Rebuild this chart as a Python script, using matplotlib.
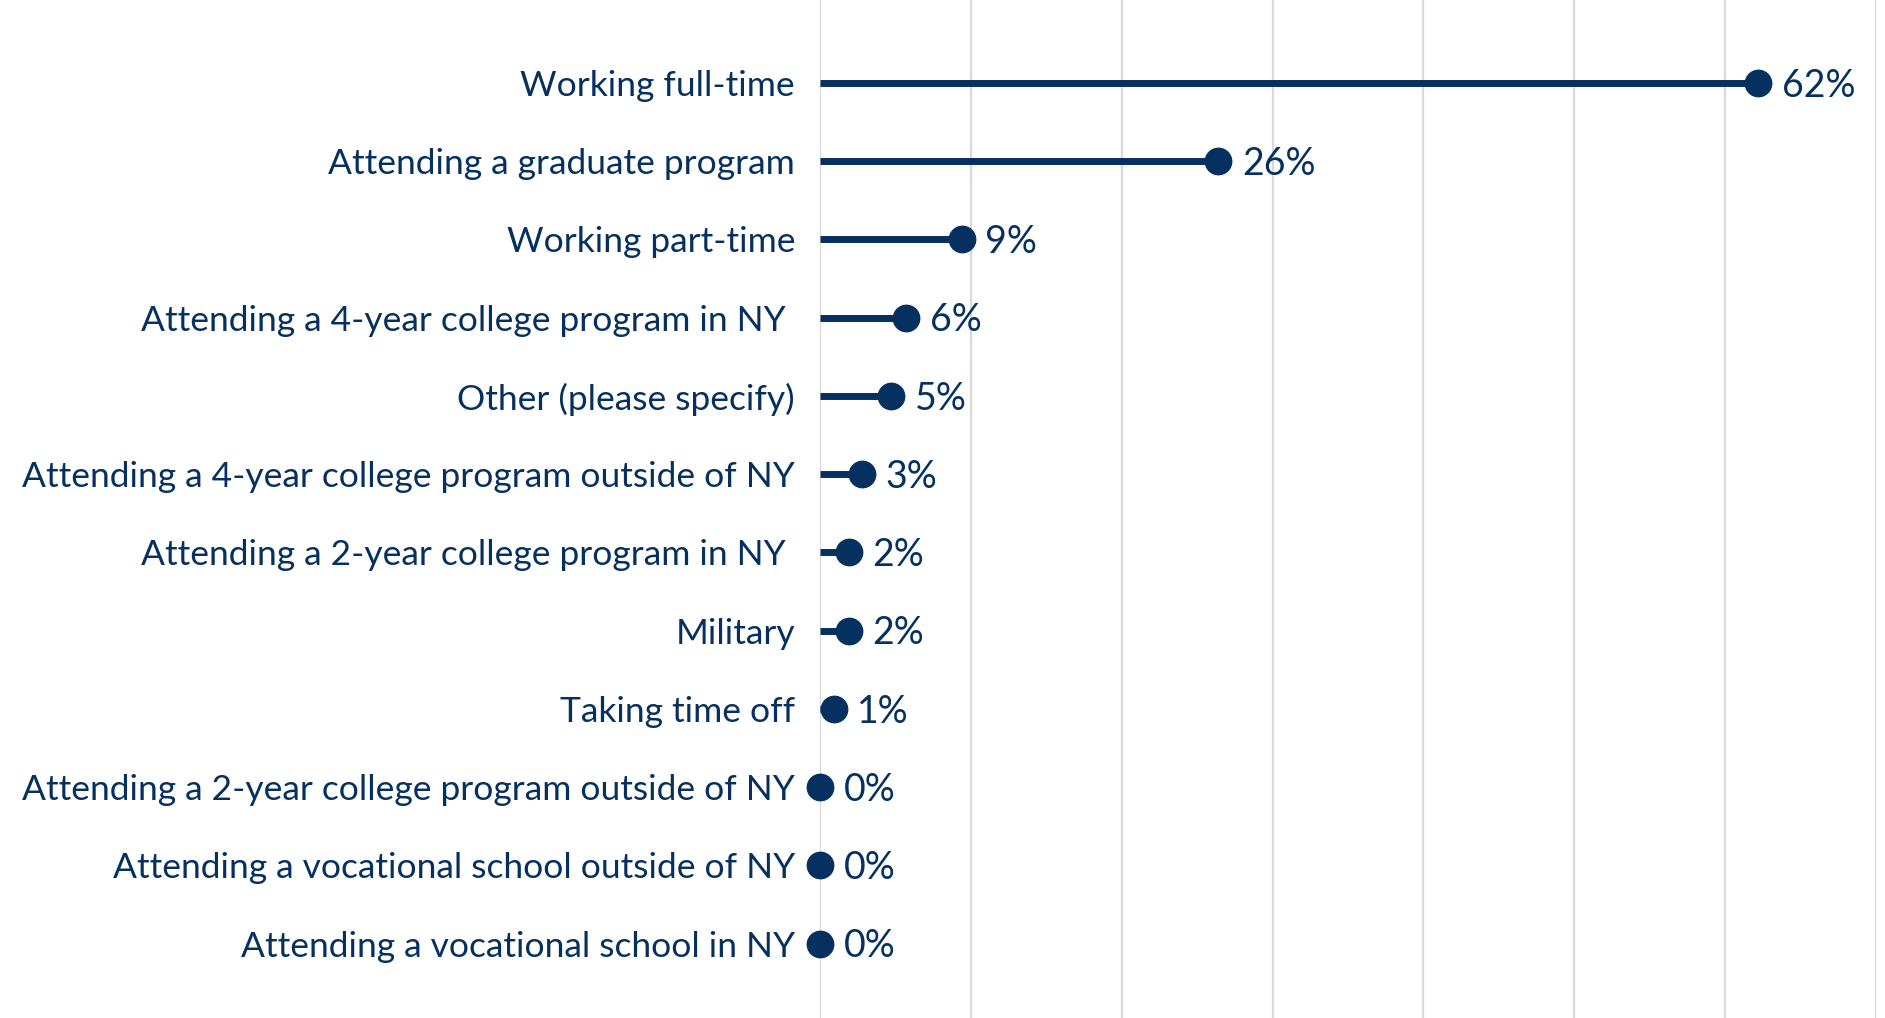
import matplotlib
matplotlib.use('Agg')
import matplotlib.pyplot as plt

categories = [
    'Working full-time',
    'Attending a graduate program',
    'Working part-time',
    'Attending a 4-year college program in NY ',
    'Other (please specify)',
    'Attending a 4-year college program outside of NY',
    'Attending a 2-year college program in NY ',
    'Military',
    'Taking time off',
    'Attending a 2-year college program outside of NY',
    'Attending a vocational school outside of NY',
    'Attending a vocational school in NY',
]
values = [62.2, 26.4, 9.4, 5.7, 4.7, 2.8, 1.9, 1.9, 0.9, 0.0, 0.0, 0.0]
value_labels = ['62%', '26%', '9%', '6%', '5%', '3%', '2%', '2%', '1%', '0%', '0%', '0%']

navy = '#06305f'
plt.rcParams['font.family'] = ['Lato', 'DejaVu Sans']

fig = plt.figure(figsize=(18.85, 10.18), dpi=100)
ax = fig.add_axes([820 / 1885, 0, 1056 / 1885, 1])

ypos = list(range(len(categories)))
ax.hlines(ypos, 0, values, color=navy, linewidth=5, zorder=3)
ax.plot(values, ypos, 'o', color=navy, markersize=19, zorder=4, clip_on=False)
for y, v, lab in zip(ypos, values, value_labels):
    ax.annotate(lab, (v, y), xytext=(17, -2), textcoords='offset points',
                ha='left', va='center', fontsize=27, color=navy)

ax.set_xlim(0, 70)
ax.set_ylim(11.95, -1.06)
ax.set_xticks(range(0, 71, 10))
ax.xaxis.grid(True, color='#d9d9d9', linewidth=1.6)
ax.set_axisbelow(True)
ax.tick_params(axis='x', length=0, labelbottom=False)
ax.tick_params(axis='y', length=0, pad=18)
ax.set_yticks(ypos)
ax.set_yticklabels(categories, fontsize=25.5, color=navy)
for s in ax.spines.values():
    s.set_visible(False)

fig.savefig('out.png', dpi=100, facecolor='white')
